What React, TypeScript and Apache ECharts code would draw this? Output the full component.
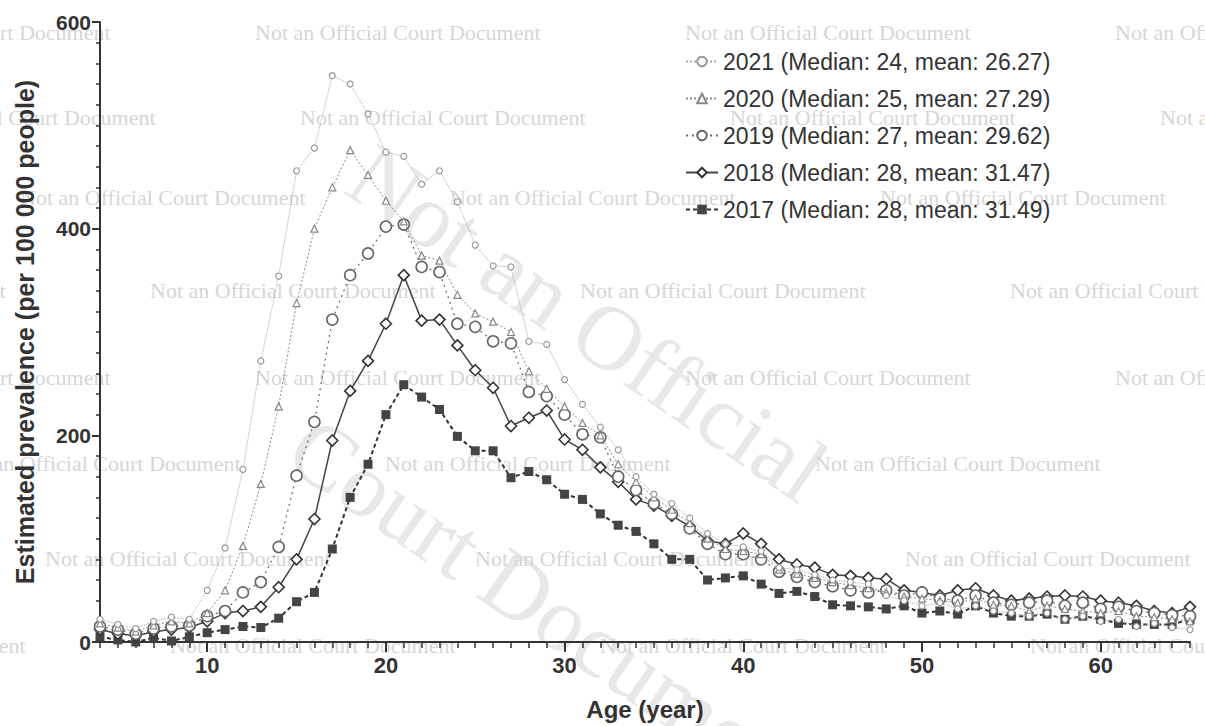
import React, { useEffect, useRef } from "react";
import * as echarts from "echarts";

const AGES = [4, 5, 6, 7, 8, 9, 10, 11, 12, 13, 14, 15, 16, 17, 18, 19, 20, 21, 22, 23, 24, 25, 26, 27, 28, 29, 30, 31, 32, 33, 34, 35, 36, 37, 38, 39, 40, 41, 42, 43, 44, 45, 46, 47, 48, 49, 50, 51, 52, 53, 54, 55, 56, 57, 58, 59, 60, 61, 62, 63, 64, 65];

const Y2021 = [22, 17, 13, 20, 24, 22, 50, 91, 167, 272, 354, 456, 478, 548, 540, 511, 474, 470, 443, 456, 426, 384, 364, 363, 291, 288, 254, 230, 208, 186, 160, 143, 134, 120, 105, 95, 92, 88, 72, 70, 65, 60, 58, 56, 45, 40, 35, 38, 32, 35, 30, 28, 25, 28, 22, 25, 20, 22, 15, 18, 14, 12];
const Y2020 = [18, 14, 10, 16, 20, 18, 28, 50, 93, 153, 228, 328, 400, 440, 476, 452, 427, 407, 374, 369, 336, 318, 310, 300, 262, 245, 228, 212, 200, 172, 155, 140, 128, 115, 100, 90, 88, 85, 70, 66, 62, 58, 55, 52, 48, 44, 42, 40, 38, 42, 36, 35, 30, 35, 32, 30, 28, 30, 25, 24, 22, 20];
const Y2019 = [15, 12, 8, 13, 15, 16, 25, 30, 48, 58, 92, 161, 213, 312, 355, 376, 402, 404, 363, 358, 308, 305, 291, 289, 242, 238, 220, 201, 198, 160, 147, 134, 124, 110, 95, 85, 85, 80, 68, 63, 58, 54, 50, 48, 50, 45, 48, 42, 40, 45, 38, 36, 38, 40, 35, 38, 32, 34, 30, 28, 26, 25];
const Y2018 = [12, 8, 6, 10, 12, 14, 20, 28, 30, 34, 53, 80, 119, 195, 243, 272, 308, 355, 311, 312, 287, 263, 246, 209, 217, 224, 196, 186, 169, 155, 138, 132, 122, 112, 98, 95, 105, 95, 80, 75, 72, 65, 64, 62, 61, 50, 48, 45, 50, 52, 45, 40, 42, 44, 45, 44, 40, 38, 35, 30, 28, 34];
const Y2017 = [5, 2, 0, 4, 1, 5, 9, 12, 15, 14, 23, 39, 48, 90, 140, 172, 220, 249, 237, 225, 199, 185, 185, 159, 165, 157, 143, 138, 124, 113, 107, 95, 80, 80, 60, 62, 64, 56, 47, 49, 44, 36, 35, 34, 32, 35, 28, 30, 27, 35, 28, 25, 25, 27, 22, 25, 22, 18, 17, 17, 17, 22];

const NAMES = [
  "2021 (Median: 24, mean: 26.27)",
  "2020 (Median: 25, mean: 27.29)",
  "2019 (Median: 27, mean: 29.62)",
  "2018 (Median: 28, mean: 31.47)",
  "2017 (Median: 28, mean: 31.49)",
];
const X_LABELS = [10, 20, 30, 40, 50, 60];
const WM = "Not an Official Court Document";

const pairs = (ys: number[]) => AGES.map((a, i) => [a, ys[i]]);

export default function App() {
  const ref = useRef<HTMLDivElement>(null);
  useEffect(() => {
    if (!ref.current) return;
    const chart = echarts.init(ref.current, null, { renderer: "svg" });
    const font = "'Liberation Sans', Arial, sans-serif";
    const serif = "'Liberation Serif', 'Times New Roman', serif";
    const period = 430;
    const rows = [
      { y: 32, x: 255 },
      { y: 117, x: 300 },
      { y: 197, x: 20 },
      { y: 290, x: 150 },
      { y: 377, x: 255 },
      { y: 463, x: 385 },
      { y: 558, x: 45 },
      { y: 645, x: 170 },
    ];
    const graphics: any[] = [];
    graphics.push({
      type: "text",
      x: 385,
      y: 128,
      rotation: -0.6,
      silent: true,
      z: -20,
      style: {
        text: "Not an Official",
        font: `92px ${serif}`,
        fill: "#e8e8e8",
        textVerticalAlign: "top",
      },
    });
    graphics.push({
      type: "text",
      x: 325,
      y: 400,
      rotation: -0.6,
      silent: true,
      z: -20,
      style: {
        text: "Court Document",
        font: `92px ${serif}`,
        fill: "#e8e8e8",
        textVerticalAlign: "top",
      },
    });
    rows.forEach((r) => {
      let x0 = r.x;
      while (x0 > -300) x0 -= period;
      for (let x = x0; x < 1205; x += period) {
        if (x + 300 < 0) continue;
        graphics.push({
          type: "text",
          x,
          y: r.y,
          silent: true,
          z: -10,
          style: {
            text: WM,
            font: `22px ${serif}`,
            fill: "#d6d6d6",
            textVerticalAlign: "middle",
          },
        });
      }
    });

    const styles = [
      { data: Y2021, line: { color: "#aaaaaa", width: 1, type: "dotted" }, symbol: "circle", size: 6, item: { color: "#fff", borderColor: "#999", borderWidth: 1.2 } },
      { data: Y2020, line: { color: "#8c8c8c", width: 1, type: [2, 2] }, symbol: "triangle", size: 7, item: { color: "#fff", borderColor: "#888", borderWidth: 1.2 } },
      { data: Y2019, line: { color: "#666", width: 1.2, type: [2, 4] }, symbol: "circle", size: 11, item: { color: "#fff", borderColor: "#666", borderWidth: 1.6 } },
      { data: Y2018, line: { color: "#444", width: 1.5, type: "solid" }, symbol: "diamond", size: 11, item: { color: "#fff", borderColor: "#333", borderWidth: 1.6 } },
      { data: Y2017, line: { color: "#333", width: 2, type: [4, 3] }, symbol: "rect", size: 9, item: { color: "#444", borderColor: "#444", borderWidth: 0 } },
    ];

    chart.setOption({
      animation: false,
      backgroundColor: "#fff",
      graphic: graphics,
      grid: { left: 100, right: 15, top: 22, bottom: 80, containLabel: false },
      legend: {
        orient: "vertical",
        left: 680,
        top: 45,
        itemWidth: 32,
        itemHeight: 12,
        itemGap: 14,
        data: NAMES,
        textStyle: { fontFamily: font, fontSize: 23, color: "#333" },
      },
      xAxis: [
        {
          type: "value",
          min: 4,
          max: 65,
          position: "bottom",
          axisLine: { show: true, onZero: false, lineStyle: { color: "#333", width: 2 } },
          axisTick: { show: true, length: 10, customValues: X_LABELS, lineStyle: { color: "#333", width: 2 } },
          axisLabel: { customValues: X_LABELS, fontFamily: font, fontSize: 22, fontWeight: "bold", color: "#333", margin: 12 },
          splitLine: { show: false },
          name: "Age (year)",
          nameLocation: "middle",
          nameGap: 55,
          nameTextStyle: { fontFamily: font, fontSize: 24, fontWeight: "bold", color: "#333" },
        },
        {
          type: "value",
          min: 4,
          max: 65,
          interval: 1,
          position: "bottom",
          axisLine: { show: false },
          axisTick: { show: true, length: 6, lineStyle: { color: "#333", width: 1.5 } },
          axisLabel: { show: false },
          splitLine: { show: false },
        },
      ],
      yAxis: {
        type: "value",
        min: 0,
        max: 600,
        interval: 200,
        axisLine: { show: true, lineStyle: { color: "#333", width: 2 } },
        axisTick: { show: true, length: 8, lineStyle: { color: "#333", width: 2 } },
        minorTick: { show: true, splitNumber: 10, length: 4, lineStyle: { color: "#333", width: 1.5 } },
        axisLabel: { fontFamily: font, fontSize: 21, fontWeight: "bold", color: "#333", margin: 9 },
        splitLine: { show: false },
        name: "Estimated prevalence (per 100 000 people)",
        nameLocation: "middle",
        nameGap: 63,
        nameTextStyle: { fontFamily: font, fontSize: 25, fontWeight: "bold", color: "#333" },
      },
      series: styles.map((s, i) => ({
        name: NAMES[i],
        type: "line",
        xAxisIndex: 0,
        data: pairs(s.data),
        symbol: s.symbol,
        symbolSize: s.size,
        showSymbol: true,
        lineStyle: s.line,
        itemStyle: s.item,
        z: 10 - i,
      })),
    });
    return () => chart.dispose();
  }, []);
  return <div ref={ref} style={{ position: "fixed", left: 0, top: 0, width: 1205, height: 726 }} />;
}
